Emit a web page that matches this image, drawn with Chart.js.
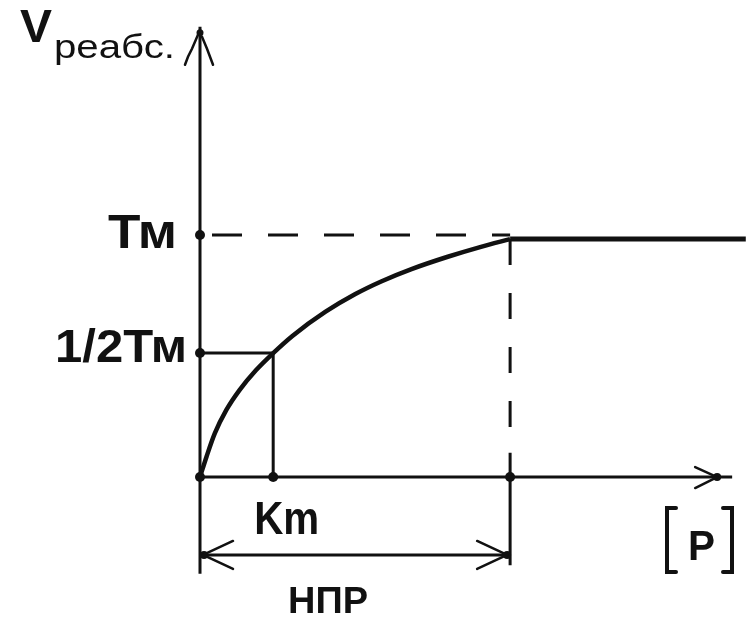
<!DOCTYPE html>
<html>
<head>
<meta charset="utf-8">
<script src="https://cdn.jsdelivr.net/npm/chart.js@4/dist/chart.umd.min.js"></script>
<style>
  html, body { margin: 0; padding: 0; background: #fff; }
  #wrap { width: 748px; height: 618px; position: relative; }
</style>
</head>
<body>
<div id="wrap"><canvas id="c"></canvas></div>
<script>
// ---- values (x: substrate, NPR = 1; y: rate, Tm = 1) ----
const curveX = [0, 0.021, 0.048, 0.085, 0.128, 0.181, 0.236, 0.298, 0.405, 0.501, 0.586, 0.682, 0.799, 0.906, 1.0];
const curveY = [0, 0.084, 0.181, 0.277, 0.360, 0.442, 0.512, 0.583, 0.683, 0.756, 0.809, 0.859, 0.910, 0.951, 0.983];
const plateauX = [1.0, 1.76];
const plateauY = [0.983, 0.983];
const tmValue = 1.0;
const halfTmValue = 0.512;
const kmValue = 0.236;
const nprValue = 1.0;
const nprArrowY = -0.322;
const yAxisRange = [-0.40, 1.86];
const xAxisEnd = 1.716;
const yTickLabels = ['Тм', '1/2Тм'];
const xTickLabels = ['Km'];
const yTitleMain = 'V';
const yTitleSub = 'реабс.';
const xTitle = 'P';
const rangeLabel = 'НПР';

const INK = '#111111';
const pts = (xs, ys) => xs.map((x, i) => ({ x: x, y: ys[i] }));

function fitText(ctx, txt, left, width, baseline, font) {
  ctx.font = font;
  const w = ctx.measureText(txt).width;
  ctx.save();
  ctx.translate(left, baseline);
  ctx.scale(width / w, 1);
  ctx.textAlign = 'left';
  ctx.textBaseline = 'alphabetic';
  ctx.fillStyle = INK;
  ctx.fillText(txt, 0, 0);
  ctx.restore();
}

function line(ctx, pts, w) {
  ctx.beginPath();
  ctx.moveTo(pts[0][0], pts[0][1]);
  for (let i = 1; i < pts.length; i++) ctx.lineTo(pts[i][0], pts[i][1]);
  ctx.lineWidth = w;
  ctx.strokeStyle = INK;
  ctx.lineCap = 'round';
  ctx.stroke();
}
function dot(ctx, x, y, r) {
  ctx.beginPath(); ctx.arc(x, y, r, 0, Math.PI * 2); ctx.fillStyle = INK; ctx.fill();
}

const decor = {
  id: 'decor',
  afterDatasetsDraw(chart) {
    const ctx = chart.ctx;
    const xs = chart.scales.x, ys = chart.scales.y;
    const X = v => xs.getPixelForValue(v), Y = v => ys.getPixelForValue(v);
    const x0 = X(0), y0 = Y(0);
    ctx.save();
    // y-axis arrowhead
    const yTip = Y(yAxisRange[1]);
    dot(ctx, x0, yTip + 6, 3.5);
    line(ctx, [[x0 - 2, yTip + 8], [x0 - 8, yTip + 22], [x0 - 12, yTip + 30], [x0 - 15, yTip + 38]], 2.5);
    line(ctx, [[x0 + 2, yTip + 10], [x0 + 7, yTip + 22], [x0 + 10, yTip + 30], [x0 + 13, yTip + 38]], 2.5);
    // x-axis arrowhead
    const xTip = X(xAxisEnd);
    dot(ctx, xTip - 15, y0, 4);
    line(ctx, [[xTip - 37, y0 - 10], [xTip - 15, y0]], 2.5);
    line(ctx, [[xTip - 37, y0 + 11], [xTip - 15, y0]], 2.5);
    // NPR double arrow heads
    const ny = Y(nprArrowY), nl = X(0), nr = X(nprValue);
    dot(ctx, nl + 4, ny, 4); dot(ctx, nr - 3, ny, 4);
    line(ctx, [[nl + 3, ny], [nl + 33, ny - 14]], 2.5);
    line(ctx, [[nl + 3, ny], [nl + 33, ny + 14]], 2.5);
    line(ctx, [[nr - 3, ny], [nr - 33, ny - 14]], 2.5);
    line(ctx, [[nr - 3, ny], [nr - 33, ny + 14]], 2.5);
    // [ ] brackets around P
    ctx.lineCap = 'butt';
    line(ctx, [[676, 508], [667, 508], [667, 572], [676, 572]], 4);
    line(ctx, [[723, 508], [732, 508], [732, 572], [723, 572]], 4);
    // texts
    fitText(ctx, yTickLabels[0], x0 - 23 - 69, 69, Y(tmValue) + 13, 'bold 48px "Liberation Sans", Arial, sans-serif');
    fitText(ctx, yTickLabels[1], x0 - 13 - 132, 132, Y(halfTmValue) + 9, 'bold 47px "Liberation Sans", Arial, sans-serif');
    fitText(ctx, xTickLabels[0], X(kmValue) - 19, 65, y0 + 57, 'bold 46px "Liberation Sans", Arial, sans-serif');
    fitText(ctx, xTitle, 688, 27, 560, 'bold 42px "Liberation Sans", Arial, sans-serif');
    fitText(ctx, rangeLabel, 288, 80, 613, 'bold 36px "Liberation Sans", Arial, sans-serif');
    fitText(ctx, yTitleMain, 20, 32, 42, 'bold 47px "Liberation Sans", Arial, sans-serif');
    fitText(ctx, yTitleSub, 54, 121, 58, '34px "Liberation Sans", Arial, sans-serif');
    ctx.restore();
  }
};

const base = { showLine: true, pointRadius: 0, borderColor: INK, backgroundColor: INK, clip: false, fill: false };

new Chart(document.getElementById('c'), {
  type: 'scatter',
  data: {
    datasets: [
      Object.assign({}, base, { data: pts([0, 0], yAxisRange), borderWidth: 3 }),
      Object.assign({}, base, { data: pts([0, xAxisEnd], [0, 0]), borderWidth: 3 }),
      Object.assign({}, base, { data: pts([0, kmValue, kmValue], [halfTmValue, halfTmValue, 0]), borderWidth: 3 }),
      Object.assign({}, base, { data: pts([0, nprValue], [tmValue, tmValue]), borderWidth: 3, borderDash: [30, 26], borderDashOffset: 44 }),
      Object.assign({}, base, { data: pts([nprValue, nprValue], [plateauY[0], 0.1]), borderWidth: 3, borderDash: [26, 28] }),
      Object.assign({}, base, { data: pts([nprValue, nprValue], [0.1, -0.364]), borderWidth: 3 }),
      Object.assign({}, base, { data: pts([0, nprValue], [nprArrowY, nprArrowY]), borderWidth: 3 }),
      Object.assign({}, base, { data: pts(curveX, curveY), borderWidth: 4.5, tension: 0.4, cubicInterpolationMode: 'monotone' }),
      Object.assign({}, base, { data: pts(plateauX, plateauY), borderWidth: 5 }),
      Object.assign({}, base, { showLine: false, pointRadius: 5, pointBorderWidth: 0,
        data: pts([0, 0, kmValue, nprValue, 0], [tmValue, halfTmValue, 0, 0, 0]) })
    ]
  },
  options: {
    responsive: true,
    maintainAspectRatio: false,
    animation: false,
    layout: { padding: { left: 200, right: 0, top: 20, bottom: 18 } },
    plugins: { legend: { display: false }, tooltip: { enabled: false } },
    scales: {
      x: { type: 'linear', min: 0, max: 1.751, display: false },
      y: { type: 'linear', min: -0.508, max: 1.888, display: false }
    }
  },
  plugins: [decor]
});
</script>
</body>
</html>
